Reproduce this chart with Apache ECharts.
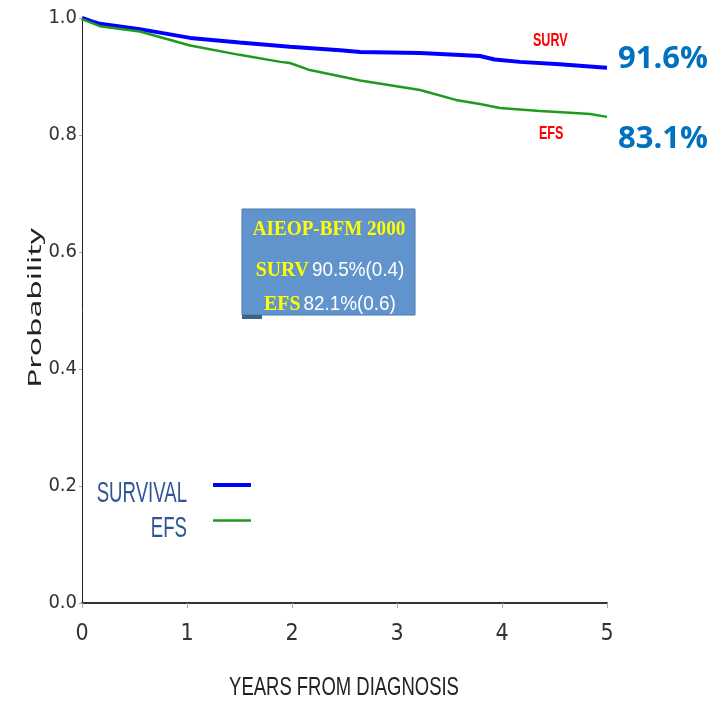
<!DOCTYPE html>
<html>
<head>
<meta charset="utf-8">
<script src="https://cdn.jsdelivr.net/npm/echarts@6/dist/echarts.min.js"></script>
<style>
  html, body { margin: 0; padding: 0; background: #fff; }
  #chart { width: 714px; height: 704px; }
</style>
</head>
<body>
<div id="chart"></div>
<script>
// years from diagnosis
const survYears = [0, 0.08, 0.17, 0.55, 1.03, 1.5, 1.98, 2.46, 2.65, 3.22, 3.79, 3.93, 4.17, 4.55, 4.93, 5]
const survVals  = [1.0, 0.995, 0.99, 0.981, 0.966, 0.958, 0.951, 0.945, 0.942, 0.94, 0.935, 0.929, 0.925, 0.921, 0.916, 0.915]

const efsYears = [0, 0.17, 0.55, 1.03, 1.5, 1.89, 1.98, 2.17, 2.65, 3.22, 3.56, 3.79, 3.98, 4.36, 4.65, 4.84, 5]
const efsVals  = [0.998, 0.986, 0.977, 0.953, 0.937, 0.925, 0.923, 0.911, 0.893, 0.877, 0.86, 0.853, 0.846, 0.841, 0.838, 0.836, 0.831]

const xTicks = [0, 1, 2, 3, 4, 5]
const yTicks = [0, 0.2, 0.4, 0.6, 0.8, 1.0]

const seriesNames = ['SURVIVAL', 'EFS']
const seriesColors = ['#0000FF', '#1E9A1E']

const narrow = '"Liberation Sans Narrow", "DejaVu Sans Condensed", sans-serif'
const serifB = 'bold 22px "Liberation Serif", serif'

function pairs(xs, ys) {
  return xs.map((x, i) => [x, ys[i]])
}

const chart = echarts.init(document.getElementById('chart'))

const option = {
  animation: false,
  grid: { left: 82, top: 18, right: 107, bottom: 101 },
  xAxis: {
    type: 'value',
    min: 0, max: 5, interval: 1,
    axisLine: { lineStyle: { color: '#333', width: 2 } },
    axisTick: { length: 5, lineStyle: { color: '#aaa' } },
    axisLabel: { margin: 20, fontFamily: narrow, fontSize: 23, color: '#333',
      formatter: v => xTicks.includes(v) ? String(v) : '' },
    splitLine: { show: false }
  },
  yAxis: {
    type: 'value',
    min: 0, max: 1, interval: 0.2,
    axisLine: { show: true, lineStyle: { color: '#222', width: 1 } },
    axisTick: { show: true, length: 3, lineStyle: { color: '#aaa' } },
    axisLabel: { margin: 5, fontFamily: narrow, fontSize: 20, color: '#333',
      formatter: v => yTicks.some(t => Math.abs(t - v) < 1e-9) ? v.toFixed(1) : '' },
    splitLine: { show: false }
  },
  series: [
    {
      name: seriesNames[0],
      type: 'line',
      data: pairs(survYears, survVals),
      symbol: 'none',
      lineStyle: { color: seriesColors[0], width: 4 }
    },
    {
      name: seriesNames[1],
      type: 'line',
      data: pairs(efsYears, efsVals),
      symbol: 'none',
      lineStyle: { color: seriesColors[1], width: 2.5 }
    }
  ],
  graphic: [
    // axis titles (stretched fonts in the original)
    { type: 'text', x: 344, y: 688, scaleX: 0.71,
      style: { text: 'YEARS FROM DIAGNOSIS', fill: '#222', align: 'center', verticalAlign: 'middle',
        font: '26px "Liberation Sans", sans-serif' } },
    { type: 'text', x: 36, y: 308, rotation: Math.PI / 2, scaleX: 1.76,
      style: { text: 'Probability', fill: '#222', align: 'center', verticalAlign: 'middle',
        font: '18px "Noto Sans", sans-serif' } },

    // legend
    { type: 'text', x: 187, y: 494, scaleX: 0.62,
      style: { text: seriesNames[0], fill: '#2F5597', align: 'right', verticalAlign: 'middle',
        font: '30px "Liberation Sans", sans-serif' } },
    { type: 'text', x: 187, y: 529, scaleX: 0.62,
      style: { text: seriesNames[1], fill: '#2F5597', align: 'right', verticalAlign: 'middle',
        font: '30px "Liberation Sans", sans-serif' } },
    { type: 'line', shape: { x1: 213, y1: 485, x2: 251, y2: 485 },
      style: { stroke: seriesColors[0], lineWidth: 4 } },
    { type: 'line', shape: { x1: 213, y1: 520.5, x2: 251, y2: 520.5 },
      style: { stroke: seriesColors[1], lineWidth: 2.5 } },

    // curve tags
    { type: 'text', x: 533, y: 41, scaleX: 0.66,
      style: { text: 'SURV', fill: '#FF0000', verticalAlign: 'middle', font: 'bold 19px "Liberation Sans", sans-serif' } },
    { type: 'text', x: 539, y: 134, scaleX: 0.66,
      style: { text: 'EFS', fill: '#FF0000', verticalAlign: 'middle', font: 'bold 19px "Liberation Sans", sans-serif' } },
    { type: 'text', x: 618, y: 59,
      style: { text: '91.6%', fill: '#0070C0', verticalAlign: 'middle', font: 'bold 31px "Open Sans", sans-serif' } },
    { type: 'text', x: 618, y: 139,
      style: { text: '83.1%', fill: '#0070C0', verticalAlign: 'middle', font: 'bold 31px "Open Sans", sans-serif' } },

    // study box
    { type: 'rect', shape: { x: 242, y: 209, width: 173, height: 106 },
      style: { fill: '#6193CC', stroke: '#4A78AE', lineWidth: 1 } },
    { type: 'rect', shape: { x: 242, y: 315, width: 20, height: 4 }, style: { fill: '#3F5F86' } },
    { type: 'text', x: 329, y: 229, scaleX: 0.87,
      style: { text: 'AIEOP-BFM 2000', fill: '#FFFF00', align: 'center', verticalAlign: 'middle', font: serifB } },
    { type: 'text', x: 330, y: 270, scaleX: 0.9,
      style: { align: 'center', verticalAlign: 'middle',
        text: '{y|SURV} {w|90.5%(0.4)}',
        rich: {
          y: { fill: '#FFFF00', font: serifB },
          w: { fill: '#FFFFFF', font: '21px "Liberation Sans", sans-serif' }
        } } },
    { type: 'text', x: 330, y: 304, scaleX: 0.9,
      style: { align: 'center', verticalAlign: 'middle',
        text: '{y|EFS} {w|82.1%(0.6)}',
        rich: {
          y: { fill: '#FFFF00', font: serifB },
          w: { fill: '#FFFFFF', font: '21px "Liberation Sans", sans-serif' }
        } } }
  ]
}

chart.setOption(option)
</script>
</body>
</html>
